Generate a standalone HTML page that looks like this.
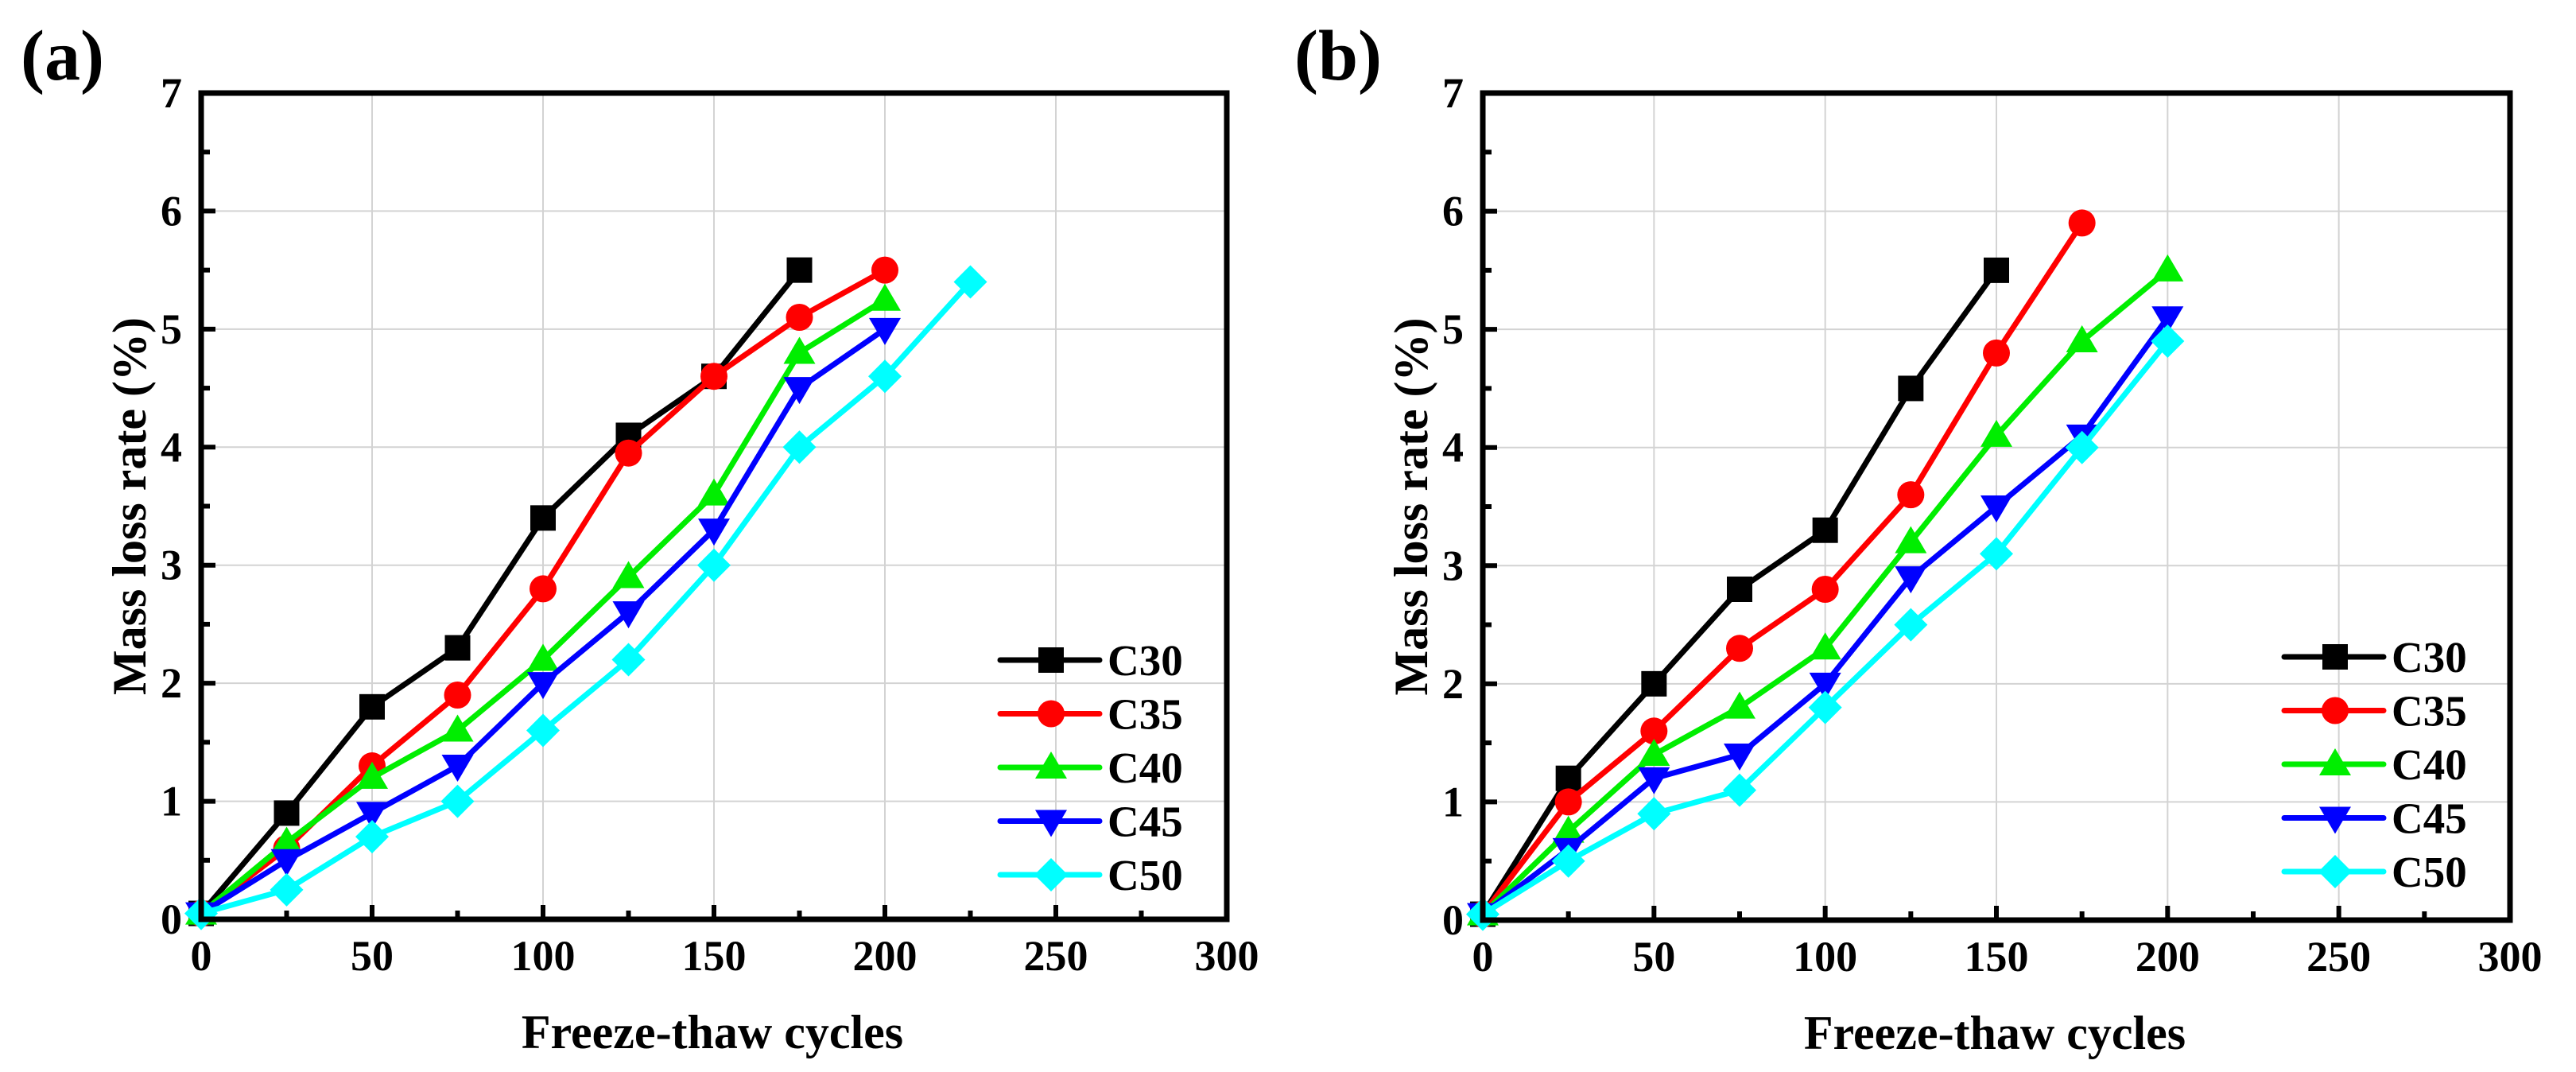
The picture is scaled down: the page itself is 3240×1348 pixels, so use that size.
<!DOCTYPE html>
<html><head><meta charset="utf-8"><style>
html,body{margin:0;padding:0;background:#fff;}
svg{display:block;}
text{font-family:"Liberation Serif",serif;font-weight:bold;fill:#000;}
</style></head><body>
<svg id="fig" width="3240" height="1348" viewBox="0 0 3240 1348"></svg>
<script>
const xTicks=[0,50,100,150,200,250,300];
const yTicks=[0,1,2,3,4,5,6,7];
const seriesNames=["C30","C35","C40","C45","C50"];
const seriesColors=["#000000","#ff0000","#00ee00","#0000ff","#00ffff"];
const seriesMarkers=["square","circle","triangle","tridown","diamond"];
const cycles=[0,25,50,75,100,125,150,175,200,225];
const aC30=[0.05,0.9,1.8,2.3,3.4,4.1,4.6,5.5];
const aC35=[0.05,0.6,1.3,1.9,2.8,3.95,4.6,5.1,5.5];
const aC40=[0.05,0.65,1.2,1.6,2.2,2.9,3.6,4.8,5.25];
const aC45=[0.05,0.5,0.9,1.3,2.0,2.6,3.3,4.5,5.0];
const aC50=[0.05,0.25,0.7,1.0,1.6,2.2,3.0,4.0,4.6,5.4];
const bC30=[0.05,1.2,2.0,2.8,3.3,4.5,5.5];
const bC35=[0.05,1.0,1.6,2.3,2.8,3.6,4.8,5.9];
const bC40=[0.05,0.75,1.4,1.8,2.3,3.2,4.1,4.9,5.5];
const bC45=[0.05,0.6,1.2,1.4,2.0,2.9,3.5,4.1,5.1];
const bC50=[0.05,0.5,0.9,1.1,1.8,2.5,3.1,4.0,4.9];

const NS="http://www.w3.org/2000/svg";
const svg=document.getElementById('fig');
function mk(tag,attrs,parent){const e=document.createElementNS(NS,tag);for(const k in attrs)e.setAttribute(k,attrs[k]);(parent||svg).appendChild(e);return e;}

function marker(g,type,cx,cy,color){
  let e;
  if(type==="square") e=mk('rect',{x:cx-16,y:cy-16,width:32,height:32,fill:color},g);
  else if(type==="circle") e=mk('circle',{cx:cx,cy:cy,r:17,fill:color},g);
  else if(type==="triangle") e=mk('polygon',{points:`${cx},${cy-20} ${cx-20},${cy+14} ${cx+20},${cy+14}`,fill:color},g);
  else if(type==="tridown") e=mk('polygon',{points:`${cx},${cy+20} ${cx-20},${cy-14} ${cx+20},${cy-14}`,fill:color},g);
  else e=mk('polygon',{points:`${cx},${cy-21} ${cx+21},${cy} ${cx},${cy+21} ${cx-21},${cy}`,fill:color},g);
  
  
}

function panel(id,label,L,R,T,B,data,labX,legX,legY){
  const g=mk('g',{});
  
  
  const xs=v=>L+(v-0)/(300-0)*(R-L);
  const ys=v=>B-(v-0)/(7-0)*(B-T);
  const lab=mk('text',{x:labX,y:100,'font-size':90},g);lab.textContent=label;
  
  xTicks.forEach(v=>{if(v>0&&v<300){const l=mk('line',{x1:xs(v),x2:xs(v),y1:T,y2:B,stroke:'#d3d3d3','stroke-width':2},g);}});
  yTicks.forEach(v=>{if(v>0&&v<7){const l=mk('line',{x1:L,x2:R,y1:ys(v),y2:ys(v),stroke:'#d3d3d3','stroke-width':2},g);}});
  data.forEach((arr,i)=>{
    const sg=mk('g',{},g);
    
    
    const pts=arr.map((v,j)=>xs(cycles[j])+','+ys(v)).join(' ');
    const pl=mk('polyline',{points:pts,fill:'none',stroke:seriesColors[i],'stroke-width':7,'stroke-linejoin':'round'},sg);
    
    arr.forEach((v,j)=>marker(sg,seriesMarkers[i],xs(cycles[j]),ys(v),seriesColors[i]));
  });
  for(let v=0;v<=300;v+=25){const len=(v%50===0)?18:11;const l=mk('line',{x1:xs(v),x2:xs(v),y1:B,y2:B-len,stroke:'#000','stroke-width':6},g);}
  for(let v=0;v<=7;v+=0.5){const len=(v%1===0)?18:11;const l=mk('line',{x1:L,x2:L+len,y1:ys(v),y2:ys(v),stroke:'#000','stroke-width':6},g);}
  const fr=mk('rect',{x:L,y:T,width:R-L,height:B-T,fill:'none',stroke:'#000','stroke-width':7},g);
  
  xTicks.forEach(v=>{const t=mk('text',{x:xs(v),y:B+64,'font-size':54,'text-anchor':'middle'},g);t.textContent=v;});
  yTicks.forEach(v=>{const t=mk('text',{x:L-24,y:ys(v)+18,'font-size':54,'text-anchor':'end'},g);t.textContent=v;});
  const xt=mk('text',{x:(L+R)/2-2,y:B+162,'font-size':60,'text-anchor':'middle'},g);xt.textContent='Freeze-thaw cycles';
  
  const cy=(T+B)/2, cx=L-70;
  const yt=mk('text',{x:cx,y:cy,'font-size':60,'text-anchor':'middle',transform:`rotate(-90 ${cx} ${cy})`},g);yt.textContent='Mass loss rate (%)';
  
  const lg=mk('g',{},g);
  seriesNames.forEach((n,i)=>{
    const yy=legY+i*67.5;
    const eg=mk('g',{},lg);
    mk('line',{x1:legX,x2:legX+125,y1:yy,y2:yy,stroke:seriesColors[i],'stroke-width':7,'stroke-linecap':'round'},eg);
    marker(eg,seriesMarkers[i],legX+64,yy,seriesColors[i]);
    const t=mk('text',{x:legX+135,y:yy+19,'font-size':55},eg);t.textContent=n;
  });
}
panel('a','(a)',253,1543,117,1156,[aC30,aC35,aC40,aC45,aC50],26,1258,830);
panel('b','(b)',1865,3157,117,1157,[bC30,bC35,bC40,bC45,bC50],1628,2873,826);
</script>
</body></html>
